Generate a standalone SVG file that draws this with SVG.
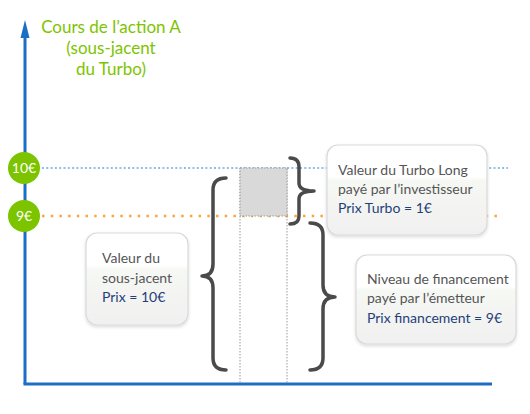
<svg xmlns="http://www.w3.org/2000/svg" width="530" height="414" viewBox="0 0 530 414">
<style>
.t{font-family:Lato,"Open Sans",sans-serif;font-size:14px;fill:#555555}
.b{fill:#1f3f7a}
.title{font-family:Lato,"Open Sans",sans-serif;font-size:17px;fill:#7dc400;text-anchor:middle}
.lbl{font-family:Lato,"Open Sans",sans-serif;font-size:14px;fill:#ffffff;text-anchor:middle}
.brace{fill:none;stroke:#4a4a4a;stroke-width:3.5;stroke-linecap:round;stroke-linejoin:round}
.box{fill:url(#g);stroke:#d9d9d9;stroke-width:1.2;filter:url(#sh)}
.axis{stroke:#1a6fc4;stroke-width:3;fill:none}
</style>
<defs>
<linearGradient id="g" x1="0" y1="0" x2="0" y2="1">
<stop offset="0" stop-color="#ffffff"/>
<stop offset="0.35" stop-color="#ffffff"/>
<stop offset="0.4" stop-color="#f6f8f4"/>
<stop offset="1" stop-color="#f0f0f0"/>
</linearGradient>
<filter id="sh" x="-10%" y="-10%" width="120%" height="125%">
<feDropShadow dx="0" dy="1.5" stdDeviation="1.5" flood-color="#000" flood-opacity="0.15"/>
</filter>
</defs>
<rect width="530" height="414" fill="#ffffff"/>
<g id="title">
<text class="title" x="111" y="33">Cours de l’action A</text>
<text class="title" x="111" y="54">(sous-jacent</text>
<text class="title" x="111" y="75">du Turbo)</text>
</g>
<g id="connectors">
<line class="axis" x1="25" y1="36" x2="25" y2="384"/>
<polygon points="25,20 20.5,38 29.5,38" fill="#1a6fc4"/>
<line class="axis" x1="23.5" y1="384" x2="492" y2="384"/>
<line x1="42" y1="168" x2="508" y2="168" stroke="#8cc0e8" stroke-width="2" stroke-dasharray="2 2.3"/>
<line x1="42" y1="216" x2="503" y2="216" stroke="#f7a741" stroke-width="2.5" stroke-dasharray="2.5 6.2"/>
<line x1="240" y1="168" x2="240" y2="384" stroke="#9a9a9a" stroke-width="1" stroke-dasharray="1.5 1.5"/>
<line x1="287" y1="168" x2="287" y2="384" stroke="#9a9a9a" stroke-width="1" stroke-dasharray="1.5 1.5"/>
</g>
<g id="turbo-bar">
<rect x="240" y="168" width="47" height="48" fill="#d9d9d9" stroke="#9a9a9a" stroke-width="1" stroke-dasharray="1.5 1.5"/>
</g>
<g id="level10">
<circle cx="24" cy="168" r="16" fill="#7dc400"/>
<text class="lbl" x="24" y="173">10€</text>
</g>
<g id="level9">
<circle cx="24" cy="216" r="16" fill="#7dc400"/>
<text class="lbl" x="24" y="221">9€</text>
</g>
<g id="brace-left">
<path class="brace" d="M226,178 Q213,178 213,190 L213,264 Q213,276 202,276 Q213,276 213,288 L213,358 Q213,370 226,370"/>
</g>
<g id="brace-turbo">
<path class="brace" d="M290,158 Q299,158 299,167 L299,183 Q299,191 314,191 Q299,191 299,199 L299,216 Q299,224 290,224"/>
</g>
<g id="brace-financement">
<path class="brace" d="M310,223 Q323,223 323,235 L323,285 Q323,297 335,297 Q323,297 323,309 L323,358 Q323,370 310,370"/>
</g>
<g id="box-turbo">
<rect class="box" x="327" y="145" width="160" height="90" rx="11"/>
<text class="t" x="338" y="175">Valeur du Turbo Long</text>
<text class="t" x="338" y="194">payé par l’investisseur</text>
<text class="t b" x="338" y="213">Prix Turbo = 1€</text>
</g>
<g id="box-financement">
<rect class="box" x="356" y="255" width="160" height="89" rx="11"/>
<text class="t" x="367" y="284">Niveau de financement</text>
<text class="t" x="367" y="303">payé par l’émetteur</text>
<text class="t b" x="367" y="323">Prix financement = 9€</text>
</g>
<g id="box-sousjacent">
<rect class="box" x="86" y="233" width="102" height="92" rx="11"/>
<text class="t" x="102" y="263">Valeur du</text>
<text class="t" x="102" y="283">sous-jacent</text>
<text class="t b" x="102" y="302">Prix = 10€</text>
</g>
</svg>
